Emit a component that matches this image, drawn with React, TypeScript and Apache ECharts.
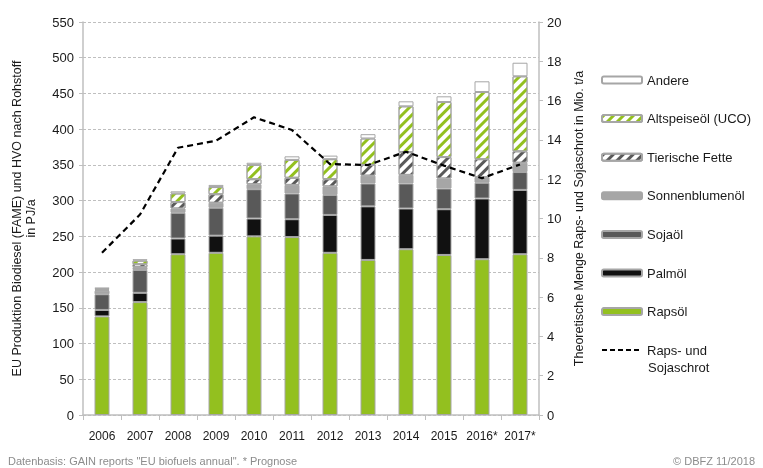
import React, { useEffect, useRef } from "react";
import * as echarts from "echarts";

const years = ["2006", "2007", "2008", "2009", "2010", "2011", "2012", "2013", "2014", "2015", "2016*", "2017*"];
const rapsoel = [138, 158, 225, 227, 250, 249, 227, 217, 232, 224, 218, 225];
const palmoel = [9, 13, 22, 24, 25, 25, 53, 75, 57, 64, 85, 90];
const sojaoel = [22, 32, 36, 39, 41, 36, 28, 32, 35, 29, 22, 25];
const sonnenblumenoel = [5, 4, 6, 7, 7, 12, 12, 11, 12, 14, 8, 13];
const tierischeFette = [1.5, 4, 9, 12, 7, 10, 10, 15, 32, 30, 25, 16];
const altspeiseoel = [1.5, 5, 12, 10, 20, 25, 28, 37, 64, 77, 94, 105];
const andere = [1, 2, 3, 3, 3, 5, 5, 6, 7, 8, 15, 19];
const schrot = [8.26, 10.2, 13.6, 13.96, 15.15, 14.5, 12.77, 12.72, 13.4, 12.69, 12.05, 12.75];

const leftTicks = { min: 0, max: 550, interval: 50 };
const rightTicks = { min: 0, max: 20, interval: 2 };

const FONT = "Liberation Sans, Arial, sans-serif";
const GREEN = "#93c01f";
const BORDER = "#a6a6a6";

function hatch(color: string) {
  return {
    symbol: "rect",
    symbolSize: 1,
    color,
    backgroundColor: "#ffffff",
    dashArrayX: [1, 0],
    dashArrayY: [3, 3.5],
    rotation: -Math.PI / 4,
  };
}

export default function App() {
  const ref = useRef<HTMLDivElement>(null);
  useEffect(() => {
    if (!ref.current) return;
    const chart = echarts.init(ref.current, null, { renderer: "svg" });
    const barBase = (name: string, data: number[], color: string, decal?: any) => ({
      name,
      type: "bar",
      stack: "total",
      data,
      barWidth: 15,
      itemStyle: {
        color,
        borderColor: BORDER,
        borderWidth: 1,
        ...(decal ? { decal } : {}),
      },
    });
    chart.setOption({
      animation: false,
      textStyle: { fontFamily: FONT },
      grid: { left: 83, right: 224, top: 22, bottom: 53 },
      legend: [
        {
          orient: "vertical",
          left: 601,
          top: 72,
          padding: 0,
          itemWidth: 40,
          itemHeight: 7,
          itemGap: 22.6,
          selectedMode: false,
          data: ["Andere", "Altspeiseöl (UCO)", "Tierische Fette", "Sonnenblumenöl", "Sojaöl", "Palmöl", "Rapsöl"],
          textStyle: { fontFamily: FONT, fontSize: 13, color: "#1a1a1a", lineHeight: 16 },
        },
        {
          orient: "vertical",
          left: 601,
          top: 342,
          padding: 0,
          itemWidth: 40,
          itemHeight: 7,
          selectedMode: false,
          data: ["Raps- und Sojaschrot"],
          formatter: () => "Raps- und",
          itemStyle: { color: "rgba(0,0,0,0)", borderWidth: 0, opacity: 0 },
          lineStyle: { color: "#000000", width: 2, type: [5, 3] },
          textStyle: { fontFamily: FONT, fontSize: 13, color: "#1a1a1a", lineHeight: 16 },
        },
      ],
      graphic: [
        {
          type: "text",
          left: 648,
          top: 361,
          style: { text: "Sojaschrot", fontFamily: FONT, fontSize: 13, fill: "#1a1a1a" },
        },
        {
          type: "text",
          left: 8,
          top: 455,
          style: { text: 'Datenbasis: GAIN reports "EU biofuels annual". * Prognose', fontFamily: FONT, fontSize: 11, fill: "#8c8c8c" },
        },
        {
          type: "text",
          right: 8,
          top: 455,
          style: { text: "© DBFZ 11/2018", fontFamily: FONT, fontSize: 11, fill: "#8c8c8c" },
        },
      ],
      xAxis: {
        type: "category",
        data: years,
        axisLine: { lineStyle: { color: "#bfbfbf", width: 1.5 } },
        axisTick: { show: true, length: 5, lineStyle: { color: "#bfbfbf" } },
        axisLabel: { color: "#1a1a1a", fontSize: 12, margin: 15, interval: 0, fontFamily: FONT },
      },
      yAxis: [
        {
          type: "value",
          ...leftTicks,
          name: "EU Produktion Biodiesel (FAME) und HVO nach Rohstoff\nin PJ/a",
          nameLocation: "middle",
          nameRotate: 90,
          nameGap: 45,
          nameTextStyle: { fontFamily: FONT, fontSize: 12.5, color: "#1a1a1a", lineHeight: 14 },
          axisLine: { show: true, lineStyle: { color: "#bfbfbf", width: 1.5 } },
          axisTick: { show: true, length: 4, lineStyle: { color: "#bfbfbf" } },
          axisLabel: { color: "#1a1a1a", fontSize: 13, margin: 9, fontFamily: FONT },
          splitLine: { show: true, lineStyle: { color: "#bfbfbf", type: [3, 2] } },
        },
        {
          type: "value",
          ...rightTicks,
          position: "right",
          name: "Theoretische Menge Raps- und Sojaschrot in Mio. t/a",
          nameLocation: "middle",
          nameRotate: 90,
          nameGap: 33,
          nameTextStyle: { fontFamily: FONT, fontSize: 12.5, color: "#1a1a1a" },
          axisLine: { show: true, lineStyle: { color: "#bfbfbf", width: 1.5 } },
          axisTick: { show: true, length: 4, lineStyle: { color: "#bfbfbf" } },
          axisLabel: { color: "#1a1a1a", fontSize: 13, margin: 8, fontFamily: FONT },
          splitLine: { show: false },
        },
      ],
      series: [
        barBase("Rapsöl", rapsoel, GREEN),
        barBase("Palmöl", palmoel, "#111111"),
        barBase("Sojaöl", sojaoel, "#595959"),
        barBase("Sonnenblumenöl", sonnenblumenoel, "#a6a6a6"),
        barBase("Tierische Fette", tierischeFette, "#ffffff", hatch("#595959")),
        barBase("Altspeiseöl (UCO)", altspeiseoel, "#ffffff", hatch(GREEN)),
        barBase("Andere", andere, "#ffffff"),
        {
          name: "Raps- und Sojaschrot",
          type: "line",
          yAxisIndex: 1,
          data: schrot,
          symbol: "none",
          z: 5,
          lineStyle: { color: "#000000", width: 2.2, type: [6, 4] },
          itemStyle: { color: "#000000" },
        },
      ],
    });
    return () => chart.dispose();
  }, []);
  return <div ref={ref} style={{ position: "fixed", left: 0, top: 0, width: 763, height: 468 }} />;
}
